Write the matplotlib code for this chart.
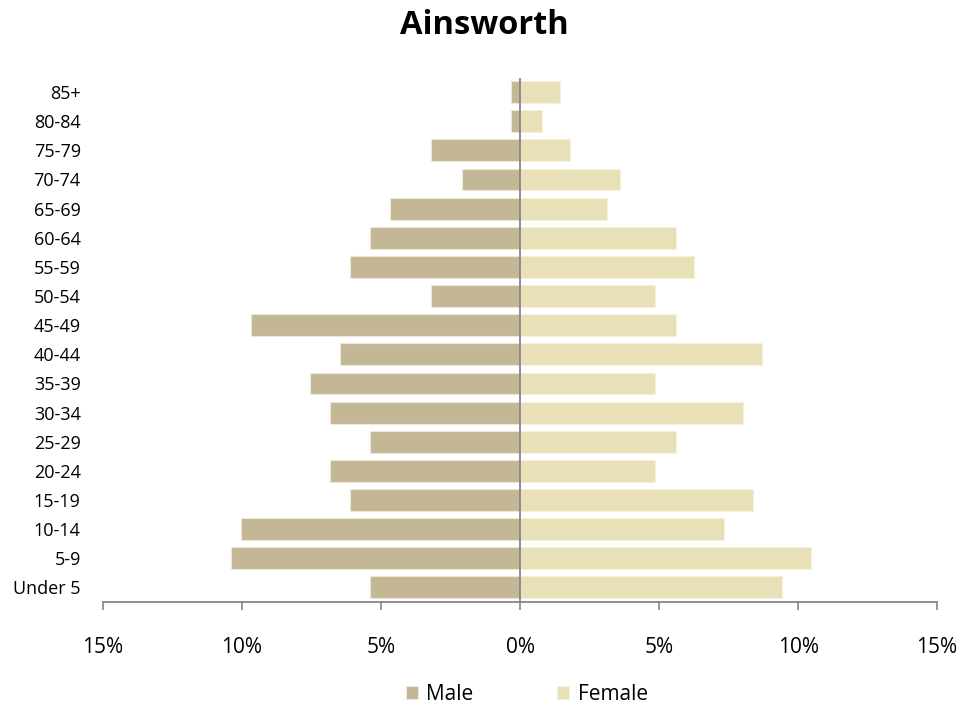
import matplotlib
matplotlib.use("Agg")
import matplotlib.pyplot as plt
import numpy as np

# age groups, bottom to top
ages = ['Under 5', '5-9', '10-14', '15-19', '20-24', '25-29', '30-34', '35-39',
        '40-44', '45-49', '50-54', '55-59', '60-64', '65-69', '70-74', '75-79',
        '80-84', '85+']
# percent of population
male = [5.38, 10.4, 10.04, 6.1, 6.83, 5.38, 6.83, 7.55,
        6.47, 9.68, 3.21, 6.1, 5.38, 4.66, 2.1, 3.2,
        0.33, 0.33]
female = [9.43, 10.47, 7.35, 8.39, 4.86, 5.6, 8.03, 4.86,
          8.7, 5.6, 4.86, 6.27, 5.6, 3.14, 3.6, 1.8,
          0.78, 1.45]

male_col = '#C4B795'
female_col = '#E8E1B7'
axis_col = '#868686'

plt.rcParams['font.family'] = ['Open Sans', 'DejaVu Sans']

fig = plt.figure(figsize=(9.79, 7.13), dpi=100)
ax = fig.add_axes([0.1052, 0.1557, 0.8520, 0.7356])

y = np.arange(len(ages))
ax.barh(y, -np.array(male), height=0.75, color=male_col,
        edgecolor='#EDE8DA', linewidth=0.8, label='Male', zorder=2)
ax.barh(y, female, height=0.75, color=female_col,
        edgecolor='#F5F1DC', linewidth=0.8, label='Female', zorder=2)
ax.axvline(0, color=axis_col, linewidth=1.3, zorder=3)

ax.set_xlim(-15, 15)
ax.set_ylim(-0.5, len(ages) - 0.5)
ticks = [-15, -10, -5, 0, 5, 10, 15]
ax.set_xticks(ticks)
ax.set_xticklabels([f'{abs(t)}%' for t in ticks], fontsize=15)
ax.set_yticks(y)
ax.set_yticklabels(ages, fontsize=13)

for s in ['top', 'right', 'left']:
    ax.spines[s].set_visible(False)
ax.spines['bottom'].set_color(axis_col)
ax.spines['bottom'].set_linewidth(1.3)
ax.tick_params(axis='x', direction='out', length=6, width=1.2,
               color=axis_col, pad=19)
ax.tick_params(axis='y', length=0, pad=16)

fig.suptitle('Ainsworth', fontsize=23.5, fontweight='bold', x=0.495, y=0.988)

fig.legend(loc='lower center', ncol=2, frameon=False, fontsize=15,
           bbox_to_anchor=(0.538, -0.015), handlelength=0.6, handleheight=0.6,
           columnspacing=4.0, handletextpad=0.4)

fig.savefig('out.png', dpi=100)
